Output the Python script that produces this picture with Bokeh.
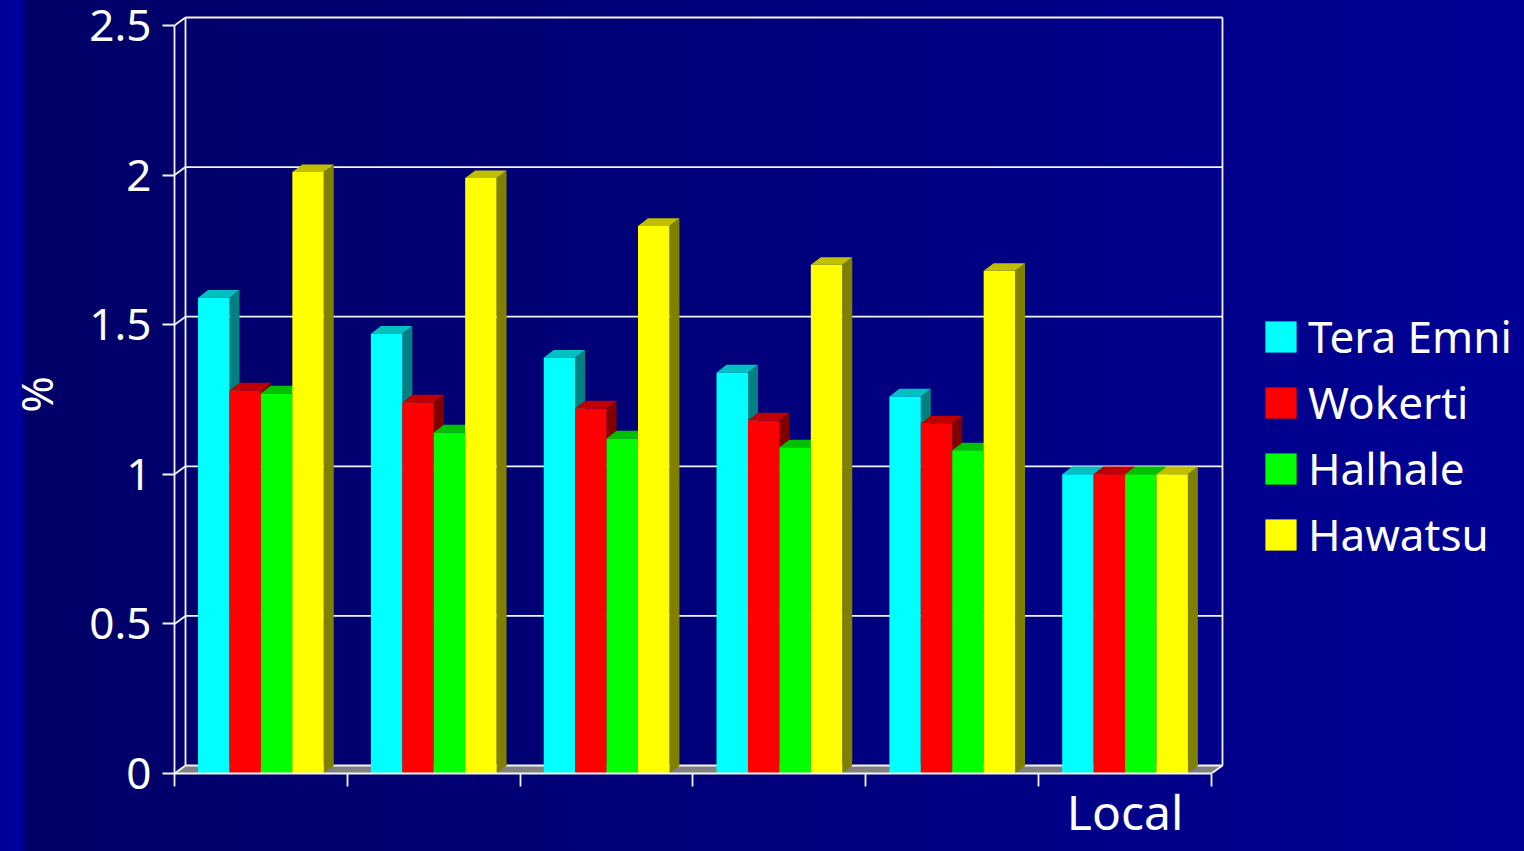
from bokeh.plotting import figure
from bokeh.models import ColumnDataSource, FixedTicker, Legend, LegendItem, LinearAxis
from bokeh.embed import file_html
from bokeh.resources import INLINE

# ---- data -------------------------------------------------------------
categories = ["", "", "", "", "", "Local"]
series_names = ["Tera Emni", "Wokerti", "Halhale", "Hawatsu"]
tera_emni = [1.59, 1.47, 1.39, 1.34, 1.26, 1.0]
wokerti = [1.28, 1.24, 1.22, 1.18, 1.17, 1.0]
halhale = [1.27, 1.14, 1.12, 1.09, 1.08, 1.0]
hawatsu = [2.01, 1.99, 1.83, 1.70, 1.68, 1.0]
y_ticks = [0, 0.5, 1, 1.5, 2, 2.5]
y_tick_labels = ["0", "0.5", "1", "1.5", "2", "2.5"]

# ---- styling ----------------------------------------------------------
FONT = "Noto Sans"
FRONT = ["#00FFFF", "#FF0000", "#00FF00", "#FFFF00"]
TOP = ["#00C0C0", "#C00000", "#00C000", "#C0C000"]
SIDE = ["#008080", "#800000", "#008000", "#808000"]
GRID = "#F4F4F4"

W, H = 1524, 851
BORDER_L, BORDER_R, BORDER_T, BORDER_B = 174, 0, 15, 78
FRAME_W = W - BORDER_L - BORDER_R
FRAME_H = H - BORDER_T - BORDER_B
X_PPU = 172.83          # pixels per category
Y_PPU = 299.2           # pixels per unit of %
X_END = FRAME_W / X_PPU
Y_END = FRAME_H / Y_PPU

# pseudo-3D depth offsets (data units)
WALL_DX, WALL_DY = 11 / X_PPU, 8 / Y_PPU
BAR_DX, BAR_DY = 10 / X_PPU, 7.7 / Y_PPU
N = len(categories)
BAR_W = 1 / 5.5
GROUP_OFF = 0.75 / 5.5

p = figure(width=W, height=H, output_backend="svg", toolbar_location=None,
           x_range=(0, X_END), y_range=(0, Y_END),
           min_border_left=BORDER_L, min_border_right=BORDER_R,
           min_border_top=BORDER_T, min_border_bottom=BORDER_B,
           x_axis_type=None, y_axis_type=None)
p.background_fill_alpha = 0
p.border_fill_alpha = 0
p.outline_line_color = None
p.grid.visible = False
p.styles = {"background-image": "linear-gradient(to right, #000098 0px, #00009C 21px, "
                                "#000084 23px, #000068 27px, #00007C 50%, #000096 100%)"}

# floor
p.patch([0, N, N + WALL_DX, WALL_DX], [0, 0, WALL_DY, WALL_DY],
        fill_color="#808080", line_color=None)

# back-wall gridlines and wall edges
p.segment(x0=[WALL_DX] * len(y_ticks), y0=[t + WALL_DY for t in y_ticks],
          x1=[N + WALL_DX] * len(y_ticks), y1=[t + WALL_DY for t in y_ticks],
          line_color=GRID, line_width=1.8)
p.segment(x0=[WALL_DX, N + WALL_DX], y0=[WALL_DY, WALL_DY],
          x1=[WALL_DX, N + WALL_DX], y1=[y_ticks[-1] + WALL_DY] * 2,
          line_color=GRID, line_width=1.8)
# connectors from the front axis to the back wall
p.segment(x0=[0] * len(y_ticks) + [N], y0=y_ticks + [0],
          x1=[WALL_DX] * len(y_ticks) + [N + WALL_DX],
          y1=[t + WALL_DY for t in y_ticks] + [WALL_DY],
          line_color=GRID, line_width=1.8)

# 3D columns, painted left to right
legend_items = []
for s, (name, vals) in enumerate(zip(series_names, [tera_emni, wokerti, halhale, hawatsu])):
    x0 = [i + GROUP_OFF + s * BAR_W for i in range(N)]
    x1 = [x + BAR_W for x in x0]
    side = ColumnDataSource(dict(
        xs=[[b, b + BAR_DX, b + BAR_DX, b] for b in x1],
        ys=[[0, BAR_DY, v + BAR_DY, v] for v in vals]))
    top = ColumnDataSource(dict(
        xs=[[a, b, b + BAR_DX, a + BAR_DX] for a, b in zip(x0, x1)],
        ys=[[v, v, v + BAR_DY, v + BAR_DY] for v in vals]))
    front = ColumnDataSource(dict(left=x0, right=x1, top=vals, bottom=[0] * N))
    p.patches("xs", "ys", source=side, fill_color=SIDE[s], line_color=None)
    p.patches("xs", "ys", source=top, fill_color=TOP[s], line_color=None)
    r = p.quad(left="left", right="right", top="top", bottom="bottom", source=front,
               fill_color=FRONT[s], line_color=None)
    legend_items.append(LegendItem(label=name, renderers=[r]))

# value axis
yax = LinearAxis(ticker=FixedTicker(ticks=y_ticks),
                 major_label_overrides={t: l for t, l in zip(y_ticks, y_tick_labels)},
                 bounds=(0, y_ticks[-1]))
yax.axis_line_color = GRID
yax.axis_line_width = 1.8
yax.major_tick_line_color = GRID
yax.major_tick_line_width = 1.8
yax.major_tick_out = 12
yax.major_tick_in = 0
yax.minor_tick_line_color = None
yax.major_label_standoff = 11
yax.major_label_text_color = "white"
yax.major_label_text_font = FONT
yax.major_label_text_font_size = "44px"
yax.axis_label = "%"
yax.axis_label_text_color = "white"
yax.axis_label_text_font = FONT
yax.axis_label_text_font_size = "44px"
yax.axis_label_text_font_style = "normal"
yax.axis_label_standoff = 20
p.add_layout(yax, "left")

# category axis
xax = LinearAxis(ticker=FixedTicker(ticks=[i + 0.5 for i in range(N)],
                                    minor_ticks=list(range(N + 1))),
                 major_label_overrides={i + 0.5: c for i, c in enumerate(categories)},
                 bounds=(0, N))
xax.axis_line_color = GRID
xax.axis_line_width = 1.8
xax.major_tick_line_color = None
xax.major_tick_out = 0
xax.major_tick_in = 0
xax.minor_tick_line_color = GRID
xax.minor_tick_line_width = 1.8
xax.minor_tick_out = 13
xax.minor_tick_in = 0
xax.major_label_standoff = -8
xax.major_label_text_color = "white"
xax.major_label_text_font = FONT
xax.major_label_text_font_size = "48px"
p.add_layout(xax, "below")

legend = Legend(items=legend_items, location=(1087, 206))
legend.background_fill_alpha = 0
legend.border_line_alpha = 0
legend.padding = 0
legend.margin = 0
legend.glyph_width = 39
legend.glyph_height = 39
legend.label_height = 66
legend.spacing = 0
legend.label_standoff = 8
legend.label_text_color = "white"
legend.label_text_font = FONT
legend.label_text_font_size = "44px"
p.add_layout(legend, "center")

open("out.html", "w").write(file_html(p, INLINE))
